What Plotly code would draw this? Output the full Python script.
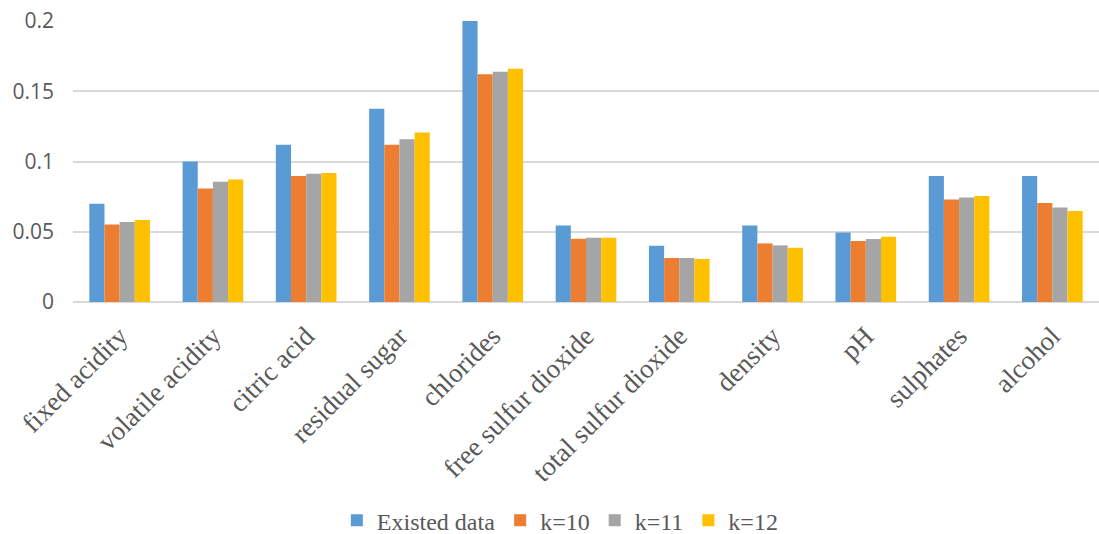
import plotly.graph_objects as go

# Wine features and their per-feature values for each data set
features = [
    "fixed acidity", "volatile acidity", "citric acid", "residual sugar",
    "chlorides", "free sulfur dioxide", "total sulfur dioxide", "density",
    "pH", "sulphates", "alcohol",
]
existed_data = [0.070, 0.100, 0.112, 0.1375, 0.200, 0.0545, 0.040, 0.0545, 0.0495, 0.0896, 0.0896]
k10 = [0.0552, 0.0808, 0.0896, 0.1119, 0.1621, 0.0450, 0.0313, 0.0417, 0.0434, 0.0730, 0.0704]
k11 = [0.0569, 0.0856, 0.0912, 0.1159, 0.1638, 0.0457, 0.0313, 0.0403, 0.0448, 0.0744, 0.0673]
k12 = [0.0583, 0.0872, 0.0919, 0.1206, 0.1661, 0.0457, 0.0306, 0.0386, 0.0465, 0.0754, 0.0647]

y_ticks = [0, 0.05, 0.1, 0.15, 0.2]
y_tick_labels = ["0", "0.05", "0.1", "0.15", "0.2"]

series = [
    ("Existed data", existed_data, "#5B9BD5"),
    ("k=10", k10, "#ED7D31"),
    ("k=11", k11, "#A5A5A5"),
    ("k=12", k12, "#FFC000"),
]

fig = go.Figure()
for name, values, color in series:
    fig.add_trace(go.Bar(
        name=name, x=features, y=values,
        marker=dict(color=color, line=dict(width=0)),
    ))

fig.update_layout(
    width=1099, height=534,
    barmode="group", bargap=0.35, bargroupgap=0,
    paper_bgcolor="white", plot_bgcolor="white",
    font=dict(family="Liberation Serif", color="#595959"),
    margin=dict(l=73, r=0, t=21, b=232, autoexpand=False),
    showlegend=True,
    legend=dict(
        orientation="h", x=0.475, xanchor="center", y=-0.778, yanchor="middle",
        font=dict(family="Liberation Serif", size=24, color="#595959"),
        itemwidth=30, tracegroupgap=0, itemsizing="constant",
        bgcolor="rgba(0,0,0,0)",
    ),
    xaxis=dict(
        tickangle=-45, showgrid=False, showline=False, ticks="",
        tickfont=dict(family="Liberation Serif", size=27, color="#595959"),
        ticklabelstandoff=12, automargin=False,
    ),
    yaxis=dict(
        range=[0, 0.2], tickvals=y_ticks, ticktext=y_tick_labels,
        showgrid=True, gridcolor="#D9D9D9", gridwidth=1.5,
        zeroline=True, zerolinecolor="#D9D9D9", zerolinewidth=1.5,
        showline=False, ticks="",
        tickfont=dict(family="Open Sans", size=21, color="#595959"),
        ticklabelstandoff=18, automargin=False,
    ),
)

fig.write_html("out.html")
